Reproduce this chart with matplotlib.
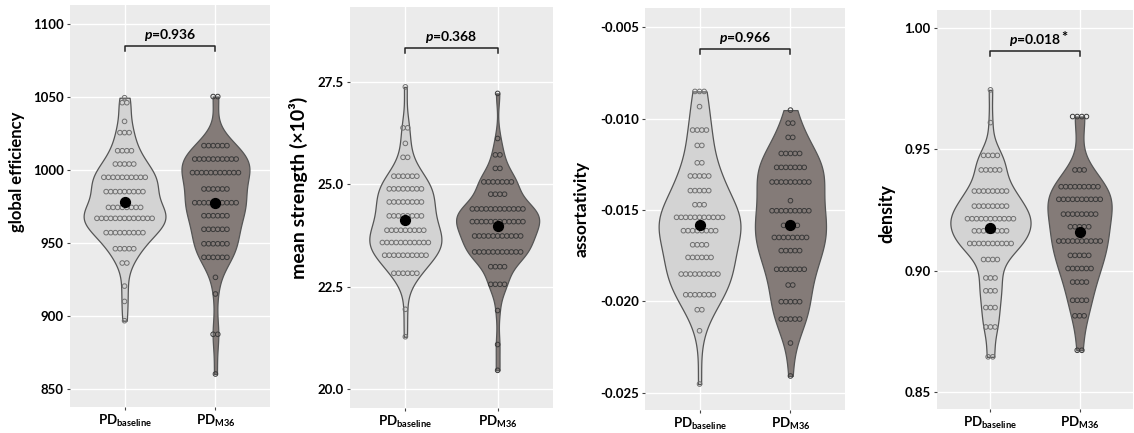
import numpy as np
import matplotlib
matplotlib.use("Agg")
import matplotlib.pyplot as plt

plt.rcParams['font.family'] = ['Lato', 'DejaVu Sans']
plt.rcParams['mathtext.fontset'] = 'custom'
plt.rcParams['mathtext.rm'] = 'Lato'
plt.rcParams['mathtext.bf'] = 'Lato:bold'
plt.rcParams['mathtext.it'] = 'Lato:italic'
plt.rcParams['mathtext.bfit'] = 'Lato:italic:bold'

group_labels = [r"PD$_\mathbf{baseline}$", r"PD$_\mathbf{M36}$"]

# dot rows: (value of row, number of dots)
ge_base_vals = [1049.5, 1046.1, 1033.3, 1025.6, 1013.2, 1004.1, 995.0, 985.2, 974.4,
                966.9, 957.1, 946.1, 936.3, 920.5, 910.0, 896.8]
ge_base_counts = [1, 2, 1, 3, 4, 5, 10, 9, 8, 13, 9, 5, 2, 1, 1, 1]
ge_m36_vals = [1050.3, 1016.7, 1007.5, 998.2, 987.0, 977.6, 968.7, 959.4, 949.5,
               940.2, 926.5, 915.1, 887.5, 860.3]
ge_m36_counts = [2, 6, 10, 11, 6, 10, 6, 6, 6, 6, 1, 1, 2, 1]

ms_base_vals = [27.38, 26.38, 26.00, 25.66, 25.20, 24.89, 24.57, 24.23, 23.88, 23.58,
                23.27, 22.83, 21.95, 21.28]
ms_base_counts = [1, 2, 1, 2, 6, 8, 8, 8, 9, 11, 10, 6, 1, 1]
ms_m36_vals = [27.22, 26.12, 25.72, 25.39, 25.06, 24.76, 24.40, 24.09, 23.74, 23.35,
               22.99, 22.56, 21.92, 21.09, 20.46]
ms_m36_counts = [1, 1, 2, 2, 7, 4, 12, 12, 11, 11, 4, 4, 1, 1, 1]

as_base_vals = [-0.00852, -0.00935, -0.01063, -0.01147, -0.01242, -0.01314, -0.01394,
                -0.01471, -0.01540, -0.01613, -0.01690, -0.01759, -0.01850, -0.01963,
                -0.02045, -0.02160, -0.02451]
as_base_counts = [3, 1, 4, 2, 2, 5, 5, 3, 11, 8, 4, 6, 9, 7, 2, 1, 1]
as_m36_vals = [-0.00954, -0.01025, -0.01103, -0.01191, -0.01267, -0.01347, -0.01449,
               -0.01504, -0.01584, -0.01650, -0.01722, -0.01824, -0.01910, -0.02001,
               -0.02096, -0.02227, -0.02407]
as_m36_counts = [1, 2, 2, 5, 7, 9, 1, 9, 4, 8, 5, 7, 2, 5, 5, 1, 1]

de_base_vals = [0.9745, 0.9610, 0.9475, 0.9415, 0.9328, 0.9266, 0.9214, 0.9164, 0.9112,
                0.9046, 0.8970, 0.8917, 0.8848, 0.8768, 0.8645]
de_base_counts = [1, 1, 4, 5, 8, 8, 11, 8, 10, 4, 3, 3, 3, 3, 2]
de_m36_vals = [0.9635, 0.9415, 0.9346, 0.9294, 0.9233, 0.9181, 0.9122, 0.9063, 0.9009,
               0.8953, 0.8878, 0.8814, 0.8672]
de_m36_counts = [4, 3, 9, 10, 8, 5, 10, 5, 6, 4, 4, 3, 2]

means = {
    "ge": [978.3, 977.6],
    "ms": [24.13, 23.99],
    "as": [-0.01580, -0.01584],
    "de": [0.9174, 0.9160],
}
p_labels = {"ge": "0.936", "ms": "0.368", "as": "0.966", "de": "0.018"}

panels = [
    # rect in px: (left, top, right, bottom); lab: ylabel coords in axes fraction
    dict(key="ge", ylabel="global efficiency", lab_size=12,
         rows=[(ge_base_vals, ge_base_counts), (ge_m36_vals, ge_m36_counts)],
         yticks=[850, 900, 950, 1000, 1050, 1100], fmt="{:.0f}",
         ylim=(837.7, 1113.0), rect=(70, 5, 270, 407), lab=(-0.225, 0.585)),
    dict(key="ms", ylabel="mean strength (\u00d710\u00b3)", lab_size=14,
         rows=[(ms_base_vals, ms_base_counts), (ms_m36_vals, ms_m36_counts)],
         yticks=[20.0, 22.5, 25.0, 27.5], fmt="{:.1f}",
         ylim=(19.54, 29.33), rect=(350, 7, 553, 408), lab=(-0.207, 0.55)),
    dict(key="as", ylabel="assortativity", lab_size=12.5,
         rows=[(as_base_vals, as_base_counts), (as_m36_vals, as_m36_counts)],
         yticks=[-0.025, -0.020, -0.015, -0.010, -0.005], fmt="{:.3f}",
         ylim=(-0.02593, -0.00396), rect=(645, 8, 845, 410), lab=(-0.275, 0.50)),
    dict(key="de", ylabel="density", lab_size=13,
         rows=[(de_base_vals, de_base_counts), (de_m36_vals, de_m36_counts)],
         yticks=[0.85, 0.90, 0.95, 1.00], fmt="{:.2f}",
         ylim=(0.843, 1.0074), rect=(937, 10, 1133, 409), lab=(-0.214, 0.49)),
]

fills = ["#d3d3d3", "#847b78"]
dot_edges = ["#707070", "#3a3a3a"]
W, H = 1134, 433


def kde(values, n_grid=300):
    n = len(values)
    sd = values.std(ddof=1)
    q75, q25 = np.percentile(values, [75, 25])
    bw = 0.9 * min(sd, (q75 - q25) / 1.34) * n ** -0.2
    y = np.linspace(values.min(), values.max(), n_grid)
    z = (y[:, None] - values[None, :]) / bw
    dens = np.exp(-0.5 * z ** 2).sum(axis=1) / (n * bw * np.sqrt(2 * np.pi))
    return y, dens


fig = plt.figure(figsize=(W / 100, H / 100), dpi=100)

for p in panels:
    l, t, r, b = p["rect"]
    ax = fig.add_axes([l / W, 1 - b / H, (r - l) / W, (b - t) / H])
    ax.set_facecolor("#ebebeb")
    for s in ax.spines.values():
        s.set_visible(False)
    ax.set_xlim(0.4, 2.6)
    ax.set_ylim(*p["ylim"])
    ax.set_yticks(p["yticks"])
    ax.set_yticklabels([p["fmt"].format(v) for v in p["yticks"]])
    ax.set_xticks([1, 2])
    ax.set_xticklabels(group_labels)
    ax.grid(True, color="white", linewidth=1.0)
    ax.set_axisbelow(True)
    ax.tick_params(length=2.5, width=0.8, color="#444444", pad=2,
                   labelsize=9.5, labelcolor="black")
    for lab in ax.get_yticklabels() + ax.get_xticklabels():
        lab.set_fontweight("bold")

    samples = [np.repeat(v, c) for v, c in p["rows"]]
    outlines = [kde(s) for s in samples]
    peak = max(d.max() for _, d in outlines)
    dx = 4.6 * 2.2 / (r - l)
    for i, ((yy, dens), (vals, counts)) in enumerate(zip(outlines, p["rows"])):
        x0 = i + 1
        hw = 0.45 * dens / peak
        ax.fill_betweenx(yy, x0 - hw, x0 + hw, facecolor=fills[i],
                         edgecolor="#555555", linewidth=0.9, zorder=2)
        for v, c in zip(vals, counts):
            xs = x0 + (np.arange(c) - (c - 1) / 2) * dx
            ax.scatter(xs, np.full(c, v), s=11, facecolors="none",
                       edgecolors=dot_edges[i], linewidths=0.7, zorder=3)
        ax.scatter([x0], [means[p["key"]][i]], s=50, color="black", zorder=4)

    # bracket with p value
    tr = ax.get_xaxis_transform()
    ax.plot([1, 1, 2, 2], [0.885, 0.898, 0.898, 0.885], color="#222222",
            linewidth=1.1, transform=tr, clip_on=False)
    ax.text(1.5, 0.906, r"$\mathbfit{p}$=" + p_labels[p["key"]],
            transform=tr, ha="center", va="bottom", fontsize=10,
            fontweight="bold")
    if p["key"] == "de":
        ax.annotate("*", xy=(1.5, 0.906), xycoords=tr, xytext=(21, 2),
                    textcoords="offset points", ha="center", va="bottom",
                    fontsize=10.5, fontweight="bold")

    ax.set_ylabel(p["ylabel"], fontsize=p["lab_size"], fontweight="bold")
    ax.yaxis.set_label_coords(*p["lab"])

fig.savefig("out.png", dpi=100)
